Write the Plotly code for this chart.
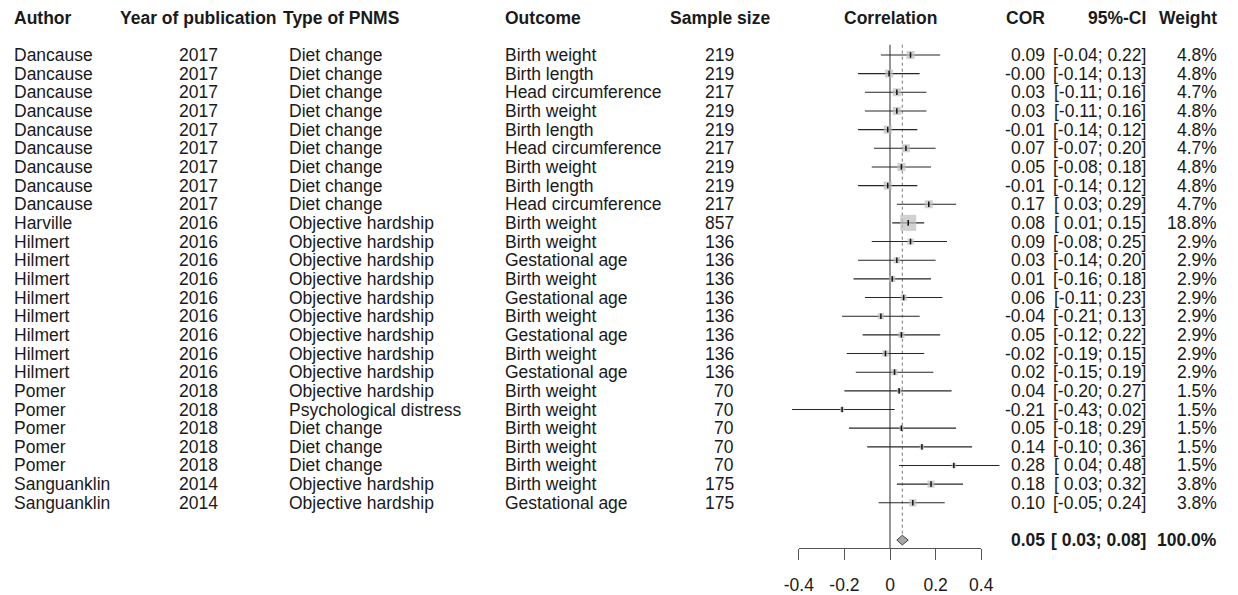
import plotly.graph_objects as go

# study rows, top to bottom
authors = ['Dancause'] * 9 + ['Harville'] + ['Hilmert'] * 8 + ['Pomer'] * 5 + ['Sanguanklin'] * 2
years = [2017] * 9 + [2016] * 9 + [2018] * 5 + [2014] * 2
pnms = (['Diet change'] * 9 + ['Objective hardship'] * 10 +
        ['Psychological distress', 'Diet change', 'Diet change', 'Diet change'] +
        ['Objective hardship'] * 2)
outcomes = ['Birth weight', 'Birth length', 'Head circumference'] * 3 + \
           ['Birth weight'] + ['Birth weight', 'Gestational age'] * 4 + \
           ['Birth weight'] * 6 + ['Gestational age']
sample_size = [219, 219, 217, 219, 219, 217, 219, 219, 217, 857,
               136, 136, 136, 136, 136, 136, 136, 136,
               70, 70, 70, 70, 70, 175, 175]
cor = [0.09, -0.004, 0.03, 0.03, -0.01, 0.07, 0.05, -0.01, 0.17, 0.08,
       0.09, 0.03, 0.01, 0.06, -0.04, 0.05, -0.02, 0.02,
       0.04, -0.21, 0.05, 0.14, 0.28, 0.18, 0.10]
ci_low = [-0.04, -0.14, -0.11, -0.11, -0.14, -0.07, -0.08, -0.14, 0.03, 0.01,
          -0.08, -0.14, -0.16, -0.11, -0.21, -0.12, -0.19, -0.15,
          -0.20, -0.43, -0.18, -0.10, 0.04, 0.03, -0.05]
ci_high = [0.22, 0.13, 0.16, 0.16, 0.12, 0.20, 0.18, 0.12, 0.29, 0.15,
           0.25, 0.20, 0.18, 0.23, 0.13, 0.22, 0.15, 0.19,
           0.27, 0.02, 0.29, 0.36, 0.48, 0.32, 0.24]
weight = [4.8, 4.8, 4.7, 4.8, 4.8, 4.7, 4.8, 4.8, 4.7, 18.8,
          2.9, 2.9, 2.9, 2.9, 2.9, 2.9, 2.9, 2.9,
          1.5, 1.5, 1.5, 1.5, 1.5, 3.8, 3.8]

pooled_cor = 0.054
pooled_low = 0.03
pooled_high = 0.08
pooled_weight = 100.0

tick_vals = [-0.4, -0.2, 0, 0.2, 0.4]
tick_text = ['-0.4', '-0.2', '0', '0.2', '0.4']

# the page body has an 8px margin, so lay out in page pixels minus that
OFF = 8
W, H = 1238 - OFF, 595 - OFF
ZERO_PX = 890.0 - OFF
PX_PER_UNIT = 228.0
FONT = 'Liberation Sans, Arial, sans-serif'
FS = 17.5
TXT = '#1a1a1a'

rows = list(range(1, len(cor) + 1))
pooled_row = len(cor) + 2
header_row = -1

fig = go.Figure()

# zero line and pooled (dotted) line
fig.add_trace(go.Scatter(x=[0, 0], y=[0.45, 27.5], mode='lines',
                         line=dict(color='#8a8a8a', width=1.8), hoverinfo='skip'))
fig.add_trace(go.Scatter(x=[pooled_cor, pooled_cor], y=[0.45, pooled_row - 0.3], mode='lines',
                         line=dict(color='#777', width=1, dash='dot'), hoverinfo='skip'))

# confidence intervals
ci_x, ci_y = [], []
for r, lo, hi in zip(rows, ci_low, ci_high):
  ci_x += [lo, hi, None]
  ci_y += [r, r, None]
fig.add_trace(go.Scatter(x=ci_x, y=ci_y, mode='lines',
                         line=dict(color='#262626', width=1.1), hoverinfo='skip'))

# weight squares + point estimate ticks
wmax = max(weight)
fig.add_trace(go.Scatter(x=cor, y=rows, mode='markers',
                         marker=dict(symbol='square', color='#bdbdbd',
                                     size=[16 * (w / wmax) ** 0.5 for w in weight],
                                     line=dict(width=0))))
fig.add_trace(go.Scatter(x=cor, y=rows, mode='markers',
                         marker=dict(symbol='line-ns-open', size=4, color='#111',
                                     line=dict(color='#111', width=1.5))))

# pooled diamond (on the visible axis)
fig.add_trace(go.Scatter(x=[pooled_low, pooled_cor, pooled_high, pooled_cor, pooled_low],
                         y=[pooled_row, pooled_row - 0.26, pooled_row, pooled_row + 0.26, pooled_row],
                         mode='lines', fill='toself', fillcolor='#a8a8a8',
                         line=dict(color='#444', width=1), xaxis='x2', yaxis='y'))

# text columns
ann = []
def add(px, row, text, anchor, bold=False):
  ann.append(dict(x=(px - OFF) / W, xref='paper', y=row, yref='y', text=f'<b>{text}</b>' if bold else text,
                  xanchor=anchor, yanchor='middle', showarrow=False, align=anchor,
                  font=dict(family=FONT, size=FS, color=TXT)))

headers = [(12, 'Author', 'left'), (198, 'Year of publication', 'center'), (281, 'Type of PNMS', 'left'),
           (503, 'Outcome', 'left'), (720, 'Sample size', 'center'), (890, 'Correlation', 'center'),
           (1047, 'COR', 'right'), (1148, '95%-CI', 'right'), (1219, 'Weight', 'right')]
for px, t, a in headers:
  add(px, header_row, t, a, bold=True)

for i, r in enumerate(rows):
  add(12, r, authors[i], 'left')
  add(198, r, str(years[i]), 'center')
  add(287, r, pnms[i], 'left')
  add(503, r, outcomes[i], 'left')
  add(736, r, str(sample_size[i]), 'right')
  add(1047, r, f'{cor[i]:.2f}', 'right')
  add(1148, r, f'[{ci_low[i]:5.2f}; {ci_high[i]:.2f}]', 'right')
  add(1219, r, f'{weight[i]:.1f}%', 'right')

add(1047, pooled_row, f'{pooled_cor:.2f}', 'right', bold=True)
add(1148, pooled_row, f'[{pooled_low:5.2f}; {pooled_high:.2f}]', 'right', bold=True)
add(1219, pooled_row, f'{pooled_weight:.1f}%', 'right', bold=True)

row_px = 18.67
plot_bottom = 548.3 - OFF
b = H - plot_bottom
y_top = 1 - (55 - OFF) / row_px
y_bot = y_top + plot_bottom / row_px

x0 = -ZERO_PX / PX_PER_UNIT
x1 = (W - ZERO_PX) / PX_PER_UNIT

fig.update_layout(
  width=W, height=H, margin=dict(l=0, r=0, t=0, b=b, autoexpand=False),
  plot_bgcolor='rgba(0,0,0,0)', paper_bgcolor='white', showlegend=False,
  annotations=ann,
  xaxis=dict(range=[x0, x1], domain=[0, 1], visible=False, fixedrange=True),
  xaxis2=dict(range=[-0.4, 0.4], domain=[(ZERO_PX - 0.4 * PX_PER_UNIT) / W, (ZERO_PX + 0.4 * PX_PER_UNIT) / W],
              anchor='y', showline=True, linecolor='#555', linewidth=1.4,
              ticks='outside', ticklen=11, tickwidth=1.4, tickcolor='#555',
              tickvals=tick_vals, ticktext=tick_text, showgrid=False, zeroline=False,
              ticklabelstandoff=10,
              tickfont=dict(family=FONT, size=FS, color=TXT), fixedrange=True),
  yaxis=dict(range=[y_bot, y_top], visible=False, fixedrange=True),
)

fig.write_html('out.html')
